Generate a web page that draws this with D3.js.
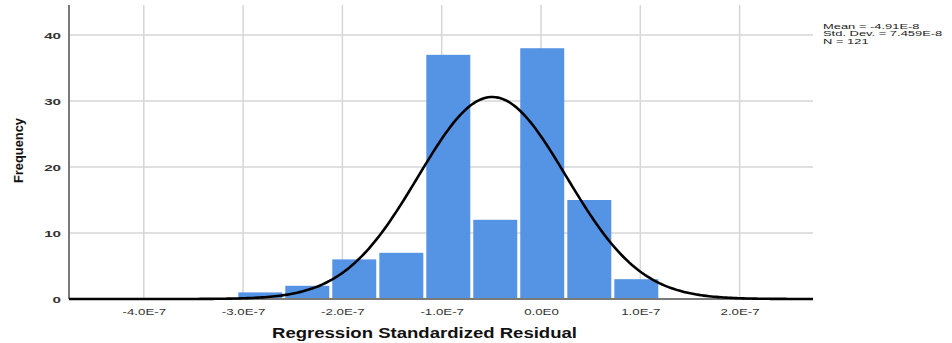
<!DOCTYPE html>
<html>
<head>
<meta charset="utf-8">
<script src="https://cdn.jsdelivr.net/npm/d3@7"></script>
<style>
  body { margin: 0; background: #fff; }
  text { font-family: "Liberation Sans", Arial, sans-serif; }
</style>
</head>
<body>
<div id="chart"></div>
<script>
// histogram data
var binStarts = [-3.063e-7, -2.590e-7, -2.117e-7, -1.643e-7, -1.170e-7, -0.697e-7, -0.224e-7, 0.250e-7, 0.723e-7];
var binWidth = 0.473e-7;
var counts = [1, 2, 6, 7, 37, 12, 38, 15, 3];

var xTicks = [-4e-7, -3e-7, -2e-7, -1e-7, 0, 1e-7, 2e-7];
var xTickLabels = ["-4.0E-7", "-3.0E-7", "-2.0E-7", "-1.0E-7", "0.0E0", "1.0E-7", "2.0E-7"];
var yTicks = [0, 10, 20, 30, 40];

var mean = -4.91e-8, sd = 7.459e-8, n = 121;
var stats = ["Mean = -4.91E-8", "Std. Dev. = 7.459E-8", "N = 121"];

var width = 952, height = 343;
var plotL = 69, plotR = 813, plotT = 5, plotB = 299;

var svg = d3.select("#chart").append("svg")
    .attr("width", width).attr("height", height);

var x = d3.scaleLinear().domain([-4.753e-7, 2.739e-7]).range([plotL, plotR]);
var y = d3.scaleLinear().domain([0, 44.55]).range([plotB, plotT]);

// grid
svg.selectAll(".vgrid").data(xTicks).enter().append("line")
    .attr("x1", d => x(d)).attr("x2", d => x(d))
    .attr("y1", plotT).attr("y2", plotB)
    .attr("stroke", "#d6d6d6").attr("stroke-width", 1.5);
svg.selectAll(".hgrid").data(yTicks.slice(1)).enter().append("line")
    .attr("x1", plotL).attr("x2", plotR)
    .attr("y1", d => y(d)).attr("y2", d => y(d))
    .attr("stroke", "#d6d6d6").attr("stroke-width", 1.5);

// bars
svg.selectAll(".bar").data(counts).enter().append("rect")
    .attr("x", (d, i) => x(binStarts[i]) + 1.5)
    .attr("width", (d, i) => x(binStarts[i] + binWidth) - x(binStarts[i]) - 3)
    .attr("y", d => y(d))
    .attr("height", d => y(0) - y(d))
    .attr("fill", "#5593e4");

// axes lines
svg.append("line").attr("x1", plotL).attr("x2", plotL).attr("y1", plotT).attr("y2", plotB)
    .attr("stroke", "#7a7a7a").attr("stroke-width", 2);
svg.append("line").attr("x1", plotL).attr("x2", plotR).attr("y1", plotB).attr("y2", plotB)
    .attr("stroke", "#7a7a7a").attr("stroke-width", 2);

// normal curve
var pts = d3.range(0, 301).map(function(k) {
  var v = x.domain()[0] + (x.domain()[1] - x.domain()[0]) * k / 300;
  var f = n * binWidth / (sd * Math.sqrt(2 * Math.PI)) * Math.exp(-0.5 * Math.pow((v - mean) / sd, 2));
  return [v, f];
});
svg.append("path").datum(pts)
    .attr("d", d3.line().x(d => x(d[0])).y(d => y(d[1])))
    .attr("fill", "none").attr("stroke", "#000").attr("stroke-width", 2.6);

// x axis labels
var xAxis = d3.axisBottom(x).tickValues(xTicks).tickSize(0)
    .tickFormat((d, i) => xTickLabels[i]);
var gx = svg.append("g").attr("transform", "translate(0," + plotB + ")").call(xAxis);
gx.select(".domain").remove();
gx.selectAll("text").attr("y", 16.5).attr("dy", 0)
    .attr("font-size", 9.5).attr("fill", "#333")
    .attr("font-family", "Liberation Sans, Arial, sans-serif")
    .attr("transform", "scale(1.4,1)");

// y axis labels
var yAxis = d3.axisLeft(y).tickValues(yTicks).tickSize(0);
var gy = svg.append("g").attr("transform", "translate(" + plotL + ",0)").call(yAxis);
gy.select(".domain").remove();
gy.selectAll("text").attr("x", -5).attr("dy", "0.35em")
    .attr("font-size", 9.5).attr("font-weight", "bold").attr("fill", "#333")
    .attr("font-family", "Liberation Sans, Arial, sans-serif")
    .attr("transform", "scale(1.6,1)");

// axis titles
svg.append("text").text("Regression Standardized Residual")
    .attr("x", 272).attr("y", 338)
    .attr("textLength", 305).attr("lengthAdjust", "spacingAndGlyphs")
    .attr("font-size", 14.5).attr("font-weight", "bold").attr("fill", "#111");

svg.append("text").text("Frequency")
    .attr("transform", "translate(23,183) rotate(-90)")
    .attr("textLength", 65).attr("lengthAdjust", "spacingAndGlyphs")
    .attr("font-size", 13).attr("font-weight", "bold").attr("fill", "#111");

// stats box
var gs = svg.append("g").attr("transform", "translate(823,0) scale(1.68,1)");
gs.selectAll("text").data(stats).enter().append("text")
    .attr("x", 0).attr("y", (d, i) => 29 + i * 7.3)
    .attr("font-size", 7.7).attr("fill", "#222")
    .text(d => d);
</script>
</body>
</html>
